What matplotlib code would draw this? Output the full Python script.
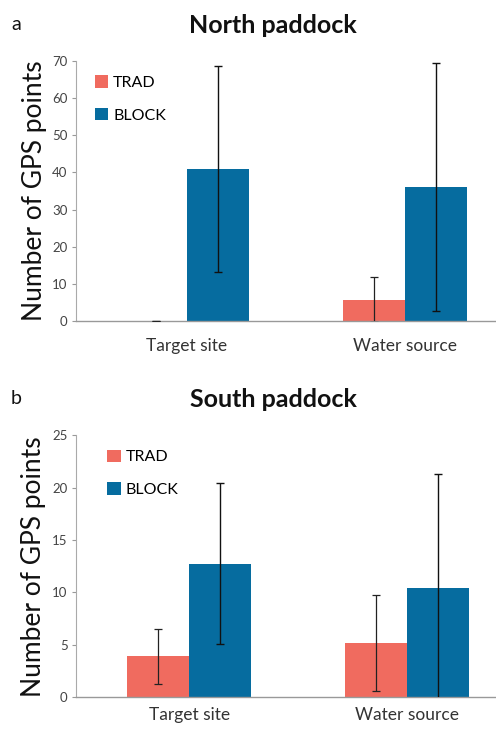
import numpy as np
import matplotlib.pyplot as plt

plt.rcParams['font.family'] = ['Lato', 'DejaVu Sans']

categories = ["Target site", "Water source"]
series = ["TRAD", "BLOCK"]
colors = ["#F06B5F", "#066C9F"]

# North paddock
north_trad = [0.0, 5.7]
north_trad_err = [0.1, 6.1]
north_block = [40.9, 36.1]
north_block_err = [27.8, 33.5]

# South paddock
south_trad = [3.9, 5.2]
south_trad_err = [2.6, 4.6]
south_block = [12.75, 10.4]
south_block_err = [7.7, 10.9]

fig = plt.figure(figsize=(4.96, 7.29), dpi=100)

panels = [
    ("a", "North paddock", north_trad, north_trad_err, north_block, north_block_err,
     [0.153, 0.5597, 0.847, 0.3566], 70, 10, 0.0, 0.03, 12),
    ("b", "South paddock", south_trad, south_trad_err, south_block, south_block_err,
     [0.153, 0.0435, 0.847, 0.3594], 25, 5, 0.01, 0.06, 7),
]

x = np.arange(len(categories))
w = 0.285

for letter, title, trad, trad_err, block, block_err, pos, ymax, step, shift, leg_x, xpad in panels:
    ax = fig.add_axes(pos)
    xs = x + shift
    ax.bar(xs - w / 2, trad, w, color=colors[0], label=series[0], zorder=2)
    ax.bar(xs + w / 2, block, w, color=colors[1], label=series[1], zorder=2)
    ax.errorbar(xs - w / 2, trad, yerr=trad_err, fmt="none", ecolor="#222222",
                elinewidth=0.9, capsize=3, capthick=0.9, zorder=3)
    ax.errorbar(xs + w / 2, block, yerr=block_err, fmt="none", ecolor="#111111",
                elinewidth=1.0, capsize=3, capthick=1.0, zorder=3)

    ax.set_xlim(-0.51, 1.42)
    ax.set_ylim(0, ymax)
    ax.set_yticks(np.arange(0, ymax + 1, step))
    ax.set_xticks(xs)
    ax.set_xticklabels(categories, fontsize=12.5, color="#333333")
    ax.tick_params(axis="x", length=0, pad=xpad)
    ax.tick_params(axis="y", length=3, width=0.8, color="#999999",
                   labelsize=9.5, labelcolor="#444444", pad=3)
    for s in ["top", "right"]:
        ax.spines[s].set_visible(False)
    ax.spines["left"].set_color("#aaaaaa")
    ax.spines["bottom"].set_color("#999999")
    ax.spines["left"].set_linewidth(0.8)
    ax.spines["bottom"].set_linewidth(1.0)

    ax.set_ylabel("Number of GPS points", fontsize=19, labelpad=4, color="#111111")
    ax.legend(loc="upper left", bbox_to_anchor=(leg_x, 0.97),
              frameon=False, fontsize=11.5, handlelength=0.85, handleheight=0.85,
              handletextpad=0.3, labelspacing=1.1, borderaxespad=0)

    top_px = (1 - pos[1] - pos[3]) * 729
    fig.text(273 / 496, 1 - (top_px - 36) / 729, title, ha="center", va="center",
             fontsize=18, fontweight="bold", color="#111111")
    fig.text(16 / 496, 1 - (top_px - 37) / 729, letter, ha="center", va="center",
             fontsize=14, color="#111111")

fig.savefig("out.png", dpi=100)
